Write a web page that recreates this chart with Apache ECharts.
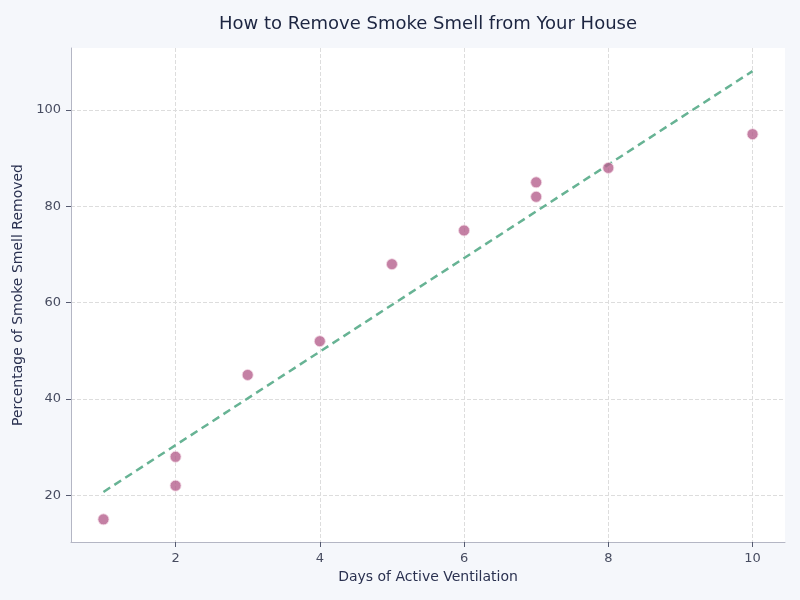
<!DOCTYPE html>
<html>
<head>
<meta charset="utf-8">
<script src="https://cdn.jsdelivr.net/npm/echarts@6/dist/echarts.min.js"></script>
<style>
  html, body { margin: 0; padding: 0; background: #f5f7fb; }
  #chart { width: 800px; height: 600px; }
</style>
</head>
<body>
<div id="chart"></div>
<script>
// observed points
const days    = [1, 2, 2, 3, 4, 5, 6, 7, 7, 8, 10];
const removed = [15, 22, 28, 45, 52, 68, 75, 82, 85, 88, 95];
// fitted trend line end points
const trendX = [1, 10];
const trendY = [20.7, 108.1];
// tick labels
const xTicks = [2, 4, 6, 8, 10];
const yTicks = [20, 40, 60, 80, 100];

const chart = echarts.init(document.getElementById('chart'));
chart.setOption({
  backgroundColor: '#f5f7fb',
  textStyle: { fontFamily: 'DejaVu Sans' },
  title: {
    text: 'How to Remove Smoke Smell from Your House',
    left: 214,
    top: 10,
    textStyle: { fontSize: 18, fontWeight: 'normal', color: '#1c2541' }
  },
  grid: {
    left: 71, right: 15, top: 48, bottom: 58,
    show: true, backgroundColor: '#ffffff', borderWidth: 0
  },
  xAxis: {
    type: 'value',
    min: 0.55, max: 10.45,
    name: 'Days of Active Ventilation',
    nameLocation: 'middle',
    nameGap: 28,
    nameTextStyle: { fontSize: 14, color: '#2a3150' },
    axisLine: { show: true, lineStyle: { color: '#b4b6c4' } },
    axisTick: { show: true, length: 5, customValues: xTicks, lineStyle: { color: '#555a70' } },
    axisLabel: { fontSize: 13, color: '#474c60', margin: 10, customValues: xTicks },
    splitLine: { show: true, lineStyle: { color: '#dddddd', type: 'dashed' } }
  },
  yAxis: {
    type: 'value',
    min: 10.3, max: 112.9,
    name: 'Percentage of Smoke Smell Removed',
    nameLocation: 'middle',
    nameGap: 39,
    nameTextStyle: { fontSize: 14, color: '#2a3150' },
    axisLine: { show: true, lineStyle: { color: '#b4b6c4' } },
    axisTick: { show: true, length: 5, customValues: yTicks, lineStyle: { color: '#555a70' } },
    axisLabel: { fontSize: 13, color: '#474c60', margin: 10, customValues: yTicks },
    splitLine: { show: true, lineStyle: { color: '#dddddd', type: 'dashed' } }
  },
  series: [
    {
      name: 'Trend',
      type: 'line',
      data: trendX.map((x, i) => [x, trendY[i]]),
      symbol: 'none',
      lineStyle: { color: '#67b394', width: 2.5, type: [8, 5] },
      z: 2
    },
    {
      name: 'Observed',
      type: 'scatter',
      data: days.map((d, i) => [d, removed[i]]),
      symbolSize: 11,
      itemStyle: { color: '#b5608d', borderColor: '#f4dbe6', borderWidth: 1 },
      z: 3
    }
  ]
});
</script>
</body>
</html>
